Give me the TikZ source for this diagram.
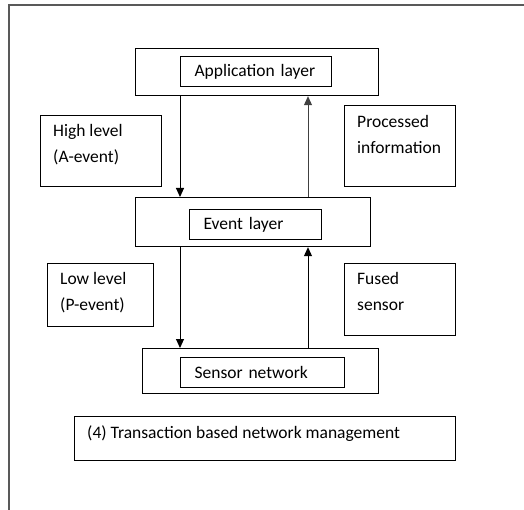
\documentclass[tikz,border=0pt]{standalone}
\usepackage{fontspec}
\setmainfont{Carlito}
\usepackage{tikz}
\usetikzlibrary{arrows,arrows.meta}

\tikzset{
	layer/.style = {draw, line width=1.2pt, inner sep=0pt, anchor=north west},
	inbox/.style = {draw, line width=1.2pt, inner xsep=14pt, inner ysep=0pt, align=left, anchor=north west},
	sidebox/.style = {draw, line width=1.2pt, inner sep=0pt, anchor=north west},
	sidetext/.style = {inner sep=0pt, align=left, anchor=north west},
	arr/.style = {-{Triangle[length=9pt,width=8pt]}, line width=1pt}
}

\begin{document}
\begin{tikzpicture}[x=1pt, y=-1pt, every node/.style={font=\fontsize{17.5}{26}\selectfont}]
	\useasboundingbox (0,0) rectangle (524,510);
	% frame
	\draw [black!65, line width=1.5pt] (9,510) -- (9,5) -- (524,5);
	% layers
	\node [layer, minimum width=243pt, minimum height=47pt] (app) at (135,48) {};
	\node [inbox, text width=123pt, minimum height=30pt] (appin) at (180,56) {Application layer};
	\node [layer, minimum width=235pt, minimum height=49pt] (event) at (135,197) {};
	\node [inbox, text width=104pt, minimum height=30pt] (eventin) at (189,209) {Event layer};
	\node [layer, minimum width=236pt, minimum height=45pt] (sensor) at (142,348) {};
	\node [inbox, text width=136pt, minimum height=30pt] (sensorin) at (180,357) {Sensor network};
	% side boxes
	\node [sidebox, minimum width=121pt, minimum height=71pt] (high) at (40,115) {};
	\node [sidetext] (hightxt) at ([xshift=13pt,yshift=-9pt]high.north west) {High level\\(A-event)};
	\node [sidebox, minimum width=111pt, minimum height=81pt] (proc) at (344,105) {};
	\node [sidetext] (proctxt) at ([xshift=13pt,yshift=-10pt]proc.north west) {Processed\\information};
	\node [sidebox, minimum width=106pt, minimum height=63pt] (low) at (47,263) {};
	\node [sidetext] (lowtxt) at ([xshift=13pt,yshift=-9pt]low.north west) {Low level\\(P-event)};
	\node [sidebox, minimum width=111pt, minimum height=72pt] (fused) at (344,263) {};
	\node [sidetext] (fusedtxt) at ([xshift=13pt,yshift=-9pt]fused.north west) {Fused\\sensor};
	\node [sidebox, minimum width=381pt, minimum height=44pt] (trans) at (74,416) {};
	\node [sidetext] (transtxt) at ([xshift=13pt,yshift=-9pt]trans.north west) {(4) Transaction based network management};
	% arrows
	\coordinate (upx) at (308,0);
	\draw [arr] (app.south -| appin.west) -- (event.north -| appin.west);
	\draw [arr, black!75] (event.north -| upx) -- (app.south -| upx);
	\draw [arr] (event.south -| sensorin.west) -- (sensor.north -| sensorin.west);
	\draw [arr] (sensor.north -| upx) -- (event.south -| upx);
\end{tikzpicture}
\end{document}
